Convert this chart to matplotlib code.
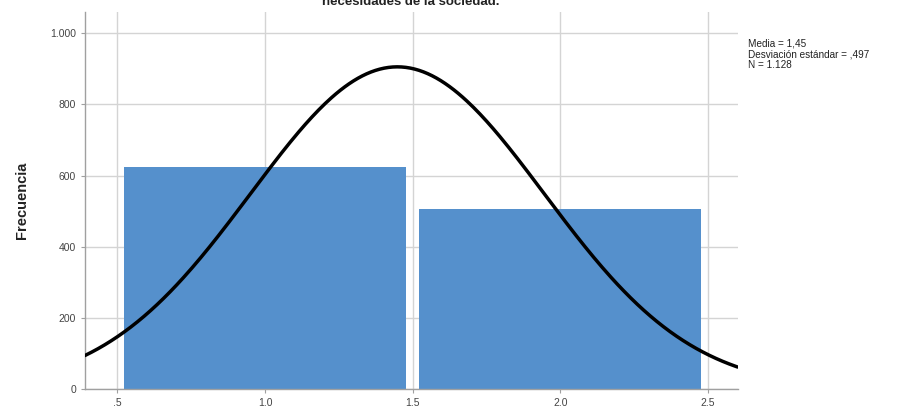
import numpy as np
import matplotlib.pyplot as plt

plt.rcParams['font.family'] = ['Liberation Sans', 'DejaVu Sans']

# data
categories = [1.0, 2.0]
counts = [623, 505]
media = 1.45
desv = 0.497
n_total = 1128

xticks = [0.5, 1.0, 1.5, 2.0, 2.5]
xtick_labels = ['.5', '1.0', '1.5', '2.0', '2.5']
yticks = [0, 200, 400, 600, 800, 1000]
ytick_labels = ['0', '200', '400', '600', '800', '1.000']

fig = plt.figure(figsize=(9.04, 4.09), dpi=100)
ax = fig.add_axes([0.094, 0.049, 0.722, 0.922])

ax.set_xlim(0.39, 2.60)
ax.set_ylim(0, 1060)

ax.grid(True, color='#d4d4d4', linewidth=1.0)
ax.set_axisbelow(True)

ax.bar(categories, counts, width=0.955, color='#5590cc', linewidth=0, zorder=2)

# normal curve from the reported stats
mean_exact = (counts[0] * categories[0] + counts[1] * categories[1]) / sum(counts)
xs = np.linspace(0.39, 2.60, 300)
ys = n_total * 1.0 / (desv * np.sqrt(2 * np.pi)) * np.exp(-0.5 * ((xs - mean_exact) / desv) ** 2)
ax.plot(xs, ys, color='black', linewidth=2.5, zorder=3, solid_capstyle='round')

ax.set_xticks(xticks)
ax.set_xticklabels(xtick_labels)
ax.set_yticks(yticks)
ax.set_yticklabels(ytick_labels)
ax.tick_params(labelsize=7.5, colors='#444444', length=3, width=0.8)
ax.tick_params(axis='both', color='#a0a0a0')

for s in ['top', 'right']:
    ax.spines[s].set_visible(False)
for s in ['left', 'bottom']:
    ax.spines[s].set_color('#a0a0a0')
    ax.spines[s].set_linewidth(1.0)

ax.set_ylabel('Frecuencia', fontsize=10.5, fontweight='bold', color='#222222', labelpad=15)

fig.text(0.454, 1 - 5 / 409, 'necesidades de la sociedad.', ha='center', va='baseline',
         fontsize=9.5, fontweight='bold', color='#222222')

fig.text(748 / 904, 1 - 39 / 409,
         'Media = 1,45\nDesviación estándar = ,497\nN = 1.128',
         ha='left', va='top', fontsize=7.2, color='#222222', linespacing=1.05)

fig.savefig('out.png', dpi=100)
